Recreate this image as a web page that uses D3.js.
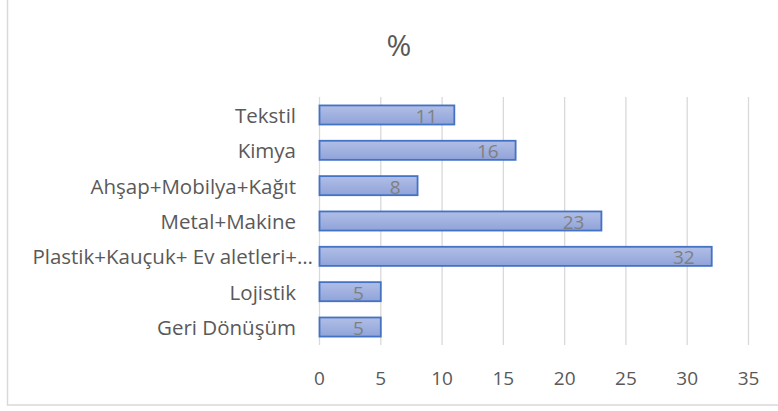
<!DOCTYPE html>
<html><head><meta charset="utf-8">
<script src="https://cdn.jsdelivr.net/npm/d3@7"></script>
<style>body{margin:0;background:#fff;}svg{display:block;font-family:"Open Sans",sans-serif;}</style>
</head><body><svg id="c" width="778" height="411"></svg>
<script>
const categories = ["Tekstil","Kimya","Ahşap+Mobilya+Kağıt","Metal+Makine","Plastik+Kauçuk+ Ev aletleri+…","Lojistik","Geri Dönüşüm"];
const values = [11,16,8,23,32,5,5];
const xTicks = [0,5,10,15,20,25,30,35];
const title = "%";

const svg = d3.select("#c");
svg.append("rect").attr("x",7.5).attr("y",-2).attr("width",775).attr("height",407)
  .attr("fill","#fff").attr("stroke","#d9d9d9").attr("stroke-width",1.5);

const defs = svg.append("defs");
const g1 = defs.append("linearGradient").attr("id","bg").attr("x1",0).attr("y1",0).attr("x2",0).attr("y2",1);
g1.append("stop").attr("offset","0%").attr("stop-color","#b1bfe6");
g1.append("stop").attr("offset","100%").attr("stop-color","#90a3d9");

const x = d3.scaleLinear().domain([0,35]).range([319.5,748.5]);
const y = d3.scaleBand().domain(categories).range([97.3,344.7]).paddingInner(0.46).paddingOuter(0.23);

svg.append("text").attr("x",399).attr("y",44).attr("text-anchor","middle").attr("dominant-baseline","central")
  .attr("font-size",30).attr("fill","#595959").text(title);

svg.append("g").selectAll("line").data(xTicks).join("line")
  .attr("x1",d=>x(d)).attr("x2",d=>x(d)).attr("y1",97).attr("y2",345)
  .attr("stroke","#d9d9d9").attr("stroke-width",1.3);

svg.append("g").selectAll("text").data(xTicks).join("text")
  .attr("x",d=>x(d)).attr("y",378).attr("text-anchor","middle").attr("dominant-baseline","central")
  .attr("font-size",19).attr("fill","#595959").text(d=>d);

const labels = svg.append("g").selectAll("text").data(categories).join("text")
  .attr("x",(d,i)=>i===4?313:296).attr("y",d=>y(d)+y.bandwidth()/2).attr("text-anchor","end").attr("dominant-baseline","central")
  .attr("font-size",18).attr("fill","#595959").text(d=>d);
// fit label font so that widths follow the reference
const w = labels.filter((d,i)=>i===6).node().getComputedTextLength();
labels.attr("font-size",18*139/w);

svg.append("g").selectAll("rect").data(values).join("rect")
  .attr("x",x(0)).attr("y",(d,i)=>y(categories[i]))
  .attr("width",d=>x(d)-x(0)).attr("height",y.bandwidth())
  .attr("fill","url(#bg)").attr("stroke","#4472c4").attr("stroke-width",1.8);

svg.append("g").selectAll("text").data(values).join("text")
  .attr("x",d=>x(d)-17).attr("y",(d,i)=>y(categories[i])+y.bandwidth()/2+1).attr("text-anchor","end").attr("dominant-baseline","central")
  .attr("font-size",19).attr("fill","#808080").text(d=>d);
</script></body></html>
